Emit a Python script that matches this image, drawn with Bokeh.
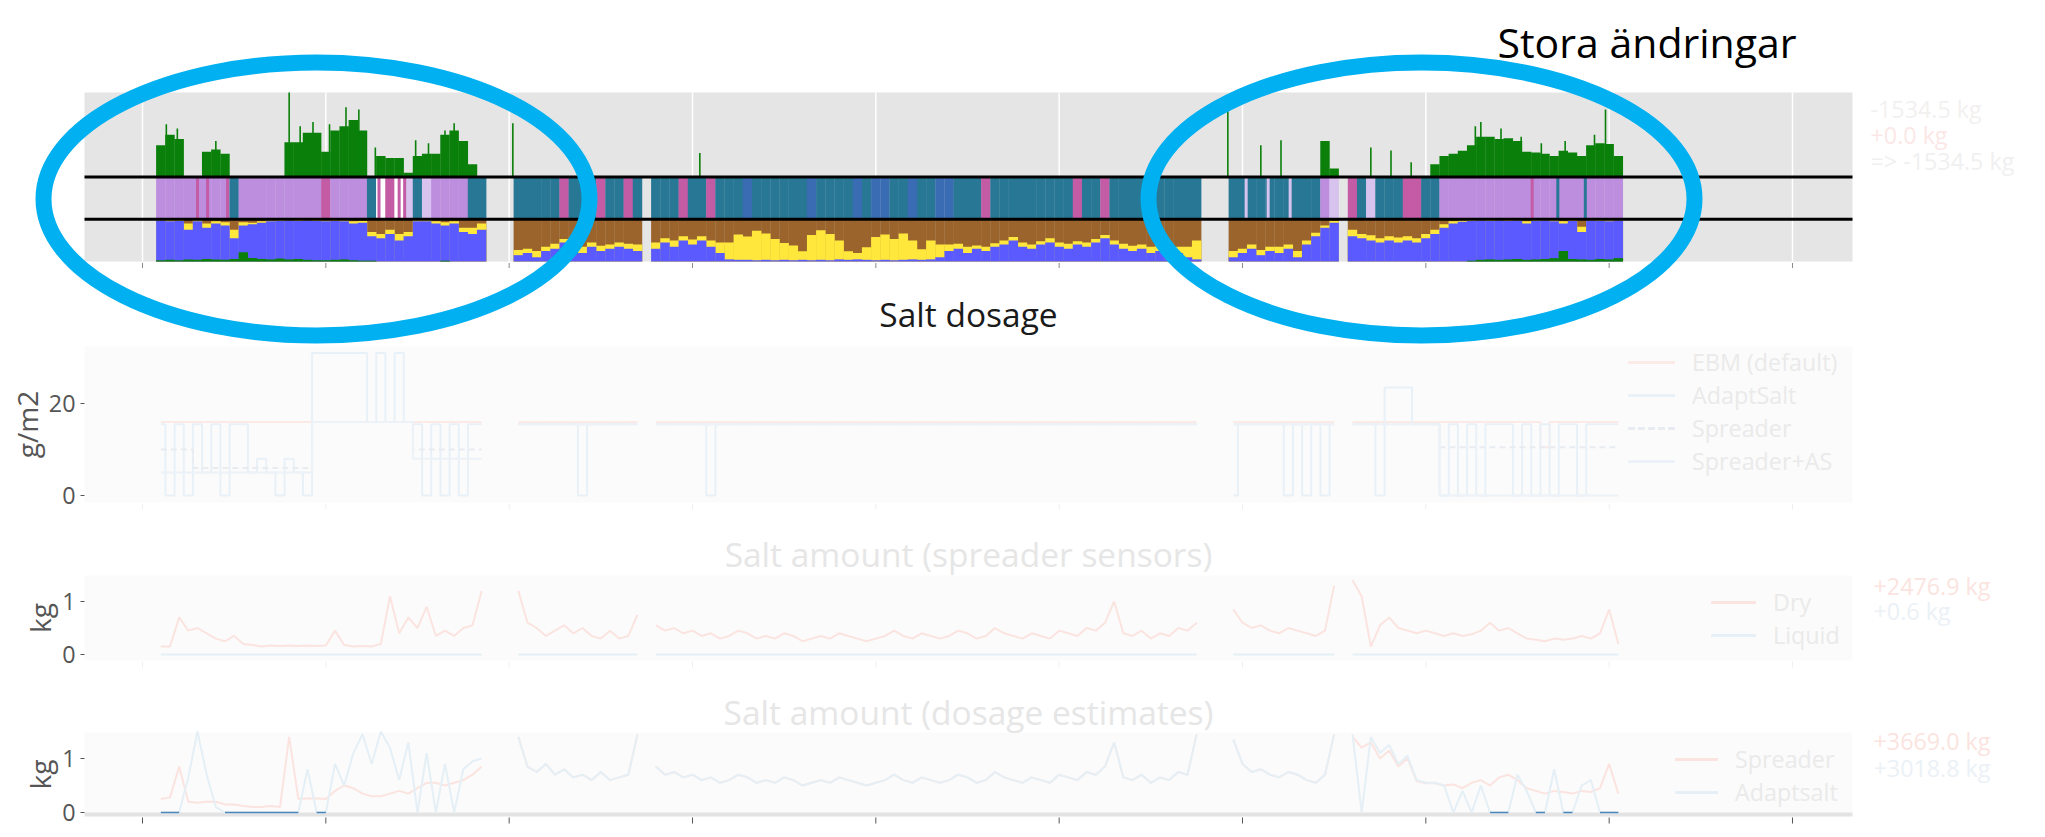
import numpy as np
from bokeh.plotting import figure
from bokeh.layouts import column
from bokeh.models import Range1d, FixedTicker, Legend, LegendItem
from bokeh.embed import file_html
from bokeh.resources import INLINE
from bokeh.core.properties import value

FONT = "Open Sans"

# ============================ DATA ============================
day_ticks = [0, 1, 2, 3, 4, 5, 6, 7, 8, 9]          # unlabeled day ticks on the shared time axis
seg_start = [0.10, 2.05, 2.80, 5.95, 6.60]         # first bin centre of each recorded stretch (days)
seg_bins = [36, 14, 60, 12, 30]                    # number of bins in each stretch
BIN_W = 0.05                                       # bin width (days)

# --- top panel: green amount above the strip (units above upper line) ---
green_top = [
    0.75, 1.0, 0.9, 0, 0, 0.6, 0.65, 0.55, 0, 0, 0, 0, 0, 0, 0.82, 0.82, 1.05, 1.05, 0.6, 1.1, 1.2, 1.35, 1.1, 0, 0.5, 0.45, 0.45, 0.1, 0.5, 0.55, 0.55, 1.0, 1.1, 0.85, 0.3, 0,
    0, 0, 0, 0, 0, 0, 0, 0, 0, 0, 0, 0, 0, 0,
    0, 0, 0, 0, 0, 0, 0, 0, 0, 0, 0, 0, 0, 0, 0, 0, 0, 0, 0, 0, 0, 0, 0, 0, 0, 0, 0, 0, 0, 0,
    0, 0, 0, 0, 0, 0, 0, 0, 0, 0, 0, 0, 0, 0, 0, 0, 0, 0, 0, 0, 0, 0, 0, 0, 0, 0, 0, 0, 0, 0,
    0, 0, 0, 0, 0, 0, 0, 0, 0, 0, 0.85, 0.2,
    0, 0, 0, 0, 0, 0, 0, 0, 0, 0.3, 0.5, 0.55, 0.62, 0.75, 0.95, 0.95, 0.9, 0.92, 0.85, 0.6, 0.58, 0.55, 0.5, 0.62, 0.58, 0.5, 0.75, 0.8, 0.78, 0.5,
]
# thin green spikes (day, height above upper line)
spike_day = [0.13, 0.19, 0.40, 0.80, 0.86, 0.93, 1.02, 1.11, 1.18, 1.27, 1.49, 1.56, 1.65, 1.70, 2.02, 3.04,
             5.92, 6.10, 6.21, 6.70, 6.81, 6.92, 7.27, 7.30, 7.41, 7.52, 7.63, 7.76, 7.92, 7.98]
spike_val = [1.25, 1.15, 0.85, 2.0, 1.2, 1.3, 1.25, 1.65, 1.6, 0.7, 0.87, 0.8, 1.1, 1.27, 1.27, 0.57,
             1.58, 0.75, 0.87, 0.7, 0.63, 0.35, 1.2, 1.3, 1.15, 0.95, 0.8, 0.85, 1.0, 1.6]

# --- top panel: road state strip (P purple, M magenta, T teal, B blue, W white, L lavender) ---
road_state = [
    "P", "P", "P", "P", "P", "P", "P", "P", "T", "P", "P", "P", "P", "P", "P", "P", "P", "P", "M", "P",
    "P", "P", "P", "T", "W", "M", "W", "L", "T", "L", "P", "P", "P", "P", "T", "T",
    "T", "T", "T", "T", "T", "M", "T", "T", "T", "M", "T", "T", "M", "T",
    "T", "T", "T", "M", "T", "T", "M", "T", "T", "T", "B", "T", "T", "T", "T", "T", "T", "B", "T", "T",
    "T", "T", "B", "T", "B", "B", "T", "T", "B", "T", "T", "B", "B", "T", "T", "T", "M", "T", "T", "T",
    "T", "T", "T", "T", "T", "T", "M", "T", "T", "M", "T", "T", "T", "T", "T", "T", "T", "T", "T", "T",
    "T", "T", "T", "T", "T", "T", "T", "T", "T", "T", "P", "L",
    "M", "T", "L", "T", "T", "T", "M", "M", "T", "T", "P", "P", "P", "P", "P", "P", "P", "P", "P", "P",
    "P", "P", "P", "P", "P", "P", "P", "P", "P", "P",
]
stripe_day = [0.30, 0.355, 0.464, 1.29, 1.40, 1.43, 6.02, 6.14, 6.26, 7.58, 7.72, 7.87]
stripe_state = ["M", "M", "M", "M", "M", "M", "L", "L", "L", "M", "T", "T"]

# --- top panel: bottom stacked fractions (blue from bottom, yellow above it, brown rest) ---
blue_frac = [
    0.97, 0.95, 0.96, 0.75, 0.95, 0.8, 0.9, 0.85, 0.55, 0.85, 0.88, 0.92, 0.95, 0.96, 0.97, 0.96, 0.97, 0.96, 0.95, 0.96,
    0.95, 0.9, 0.92, 0.6, 0.55, 0.65, 0.5, 0.6, 0.95, 0.95, 0.9, 0.85, 0.9, 0.7, 0.65, 0.75,
    0.15, 0.2, 0.1, 0.25, 0.3, 0.45, 0.3, 0.2, 0.35, 0.25, 0.3, 0.35, 0.3, 0.25,
    0.3, 0.45, 0.35, 0.5, 0.4, 0.5, 0.35, 0.2, 0.05, 0.04, 0.04, 0.03, 0.04, 0.03, 0.04, 0.03, 0.04, 0.03, 0.04, 0.03,
    0.05, 0.04, 0.05, 0.04, 0.03, 0.04, 0.03, 0.04, 0.05, 0.04, 0.05, 0.1, 0.25, 0.3, 0.2, 0.3, 0.25, 0.35, 0.4, 0.5,
    0.35, 0.3, 0.4, 0.45, 0.35, 0.3, 0.4, 0.35, 0.45, 0.55, 0.4, 0.3, 0.25, 0.3, 0.2, 0.25, 0.15, 0.2, 0.1, 0.05,
    0.1, 0.2, 0.3, 0.15, 0.25, 0.2, 0.3, 0.1, 0.4, 0.6, 0.8, 0.92,
    0.6, 0.55, 0.5, 0.45, 0.5, 0.45, 0.5, 0.45, 0.55, 0.65, 0.8, 0.9, 0.94, 0.96, 0.97, 0.96, 0.97, 0.96, 0.97, 0.9,
    0.96, 0.97, 0.95, 0.9, 0.96, 0.7, 0.97, 0.96, 0.95, 0.97,
]
yellow_frac = [
    0.02, 0.03, 0.02, 0.15, 0.03, 0.1, 0.05, 0.08, 0.2, 0.08, 0.04, 0.03, 0.02, 0.02, 0.02, 0.02, 0.02, 0.02, 0.02, 0.02,
    0.03, 0.05, 0.04, 0.1, 0.1, 0.1, 0.15, 0.1, 0.03, 0.03, 0.05, 0.08, 0.05, 0.1, 0.15, 0.15,
    0.12, 0.1, 0.15, 0.1, 0.12, 0.08, 0.12, 0.15, 0.1, 0.12, 0.1, 0.1, 0.12, 0.15,
    0.15, 0.1, 0.15, 0.1, 0.12, 0.1, 0.15, 0.25, 0.4, 0.6, 0.55, 0.7, 0.62, 0.5, 0.4, 0.35, 0.2, 0.6, 0.7, 0.62,
    0.45, 0.2, 0.15, 0.3, 0.55, 0.6, 0.5, 0.62, 0.45, 0.25, 0.45, 0.3, 0.15, 0.12, 0.15, 0.08, 0.1, 0.08, 0.1, 0.08,
    0.1, 0.1, 0.08, 0.1, 0.1, 0.12, 0.08, 0.1, 0.08, 0.08, 0.1, 0.12, 0.12, 0.1, 0.15, 0.12, 0.15, 0.15, 0.25, 0.45,
    0.15, 0.1, 0.1, 0.12, 0.1, 0.15, 0.1, 0.15, 0.1, 0.08, 0.05, 0.04,
    0.15, 0.1, 0.12, 0.1, 0.1, 0.12, 0.1, 0.1, 0.1, 0.1, 0.08, 0.05, 0.03, 0.02, 0.02, 0.02, 0.02, 0.02, 0.02, 0.05,
    0.02, 0.02, 0.03, 0.05, 0.02, 0.12, 0.02, 0.02, 0.03, 0.02,
]
green_frac = [
    0.03, 0.04, 0.03, 0.05, 0.04, 0.06, 0.05, 0.04, 0.06, 0.22, 0.08, 0.06, 0.05, 0.07, 0.05, 0.06, 0.04, 0.03, 0.03, 0.04,
    0.05, 0.03, 0.02, 0.02, 0, 0, 0, 0, 0, 0, 0, 0.02, 0, 0, 0, 0,
    0, 0, 0, 0, 0, 0, 0, 0, 0, 0, 0, 0, 0, 0,
    0, 0, 0, 0, 0, 0, 0, 0, 0, 0, 0, 0, 0, 0, 0, 0, 0, 0, 0, 0, 0, 0, 0, 0, 0, 0, 0, 0, 0, 0,
    0, 0, 0, 0, 0, 0, 0, 0, 0, 0, 0, 0, 0, 0, 0, 0, 0, 0, 0, 0, 0, 0, 0, 0, 0, 0, 0, 0, 0, 0,
    0, 0, 0, 0, 0, 0, 0, 0, 0, 0, 0, 0,
    0, 0, 0, 0, 0, 0, 0, 0, 0, 0, 0, 0, 0, 0.02, 0.04, 0.05, 0.04, 0.05, 0.06, 0.04,
    0.05, 0.06, 0.08, 0.25, 0.06, 0.05, 0.04, 0.06, 0.05, 0.08,
]

# --- Salt dosage (g/m2) ---
ebm_gm2 = [
    16, 16, 16, 16, 16, 16, 16, 16, 16, 16, 16, 16, 16, 16, 16, 16, 16, 16, 16, 16, 16, 16, 16, 16, 16, 16, 16, 16, 16, 16, 16, 16, 16, 16, 16, 16,
    16, 16, 16, 16, 16, 16, 16, 16, 16, 16, 16, 16, 16, 16,
    16, 16, 16, 16, 16, 16, 16, 16, 16, 16, 16, 16, 16, 16, 16, 16, 16, 16, 16, 16, 16, 16, 16, 16, 16, 16, 16, 16, 16, 16,
    16, 16, 16, 16, 16, 16, 16, 16, 16, 16, 16, 16, 16, 16, 16, 16, 16, 16, 16, 16, 16, 16, 16, 16, 16, 16, 16, 16, 16, 16,
    16, 16, 16, 16, 16, 16, 16, 16, 16, 16, 16, 16,
    16, 16, 16, 16, 16, 16, 16, 16, 16, 16, 16, 16, 16, 16, 16, 16, 16, 16, 16, 16, 16, 10.5, 16, 16, 16, 16, 16, 16, 16, 16,
]
adapt_gm2 = [
    15.5, 0, 15.5, 0, 15.5, 5, 15.5, 0, 15.5, 15.5, 5, 8, 5, 0, 8, 5, 0, 31, 31, 31, 31, 31, 31, 16, 31, 16, 31, 16, 15.5, 0, 15.5, 0, 15.5, 0, 15.5, 15.5,
    15.5, 15.5, 15.5, 15.5, 15.5, 15.5, 15.5, 0, 15.5, 15.5, 15.5, 15.5, 15.5, 15.5,
    15.5, 15.5, 15.5, 15.5, 15.5, 15.5, 0, 15.5, 15.5, 15.5, 15.5, 15.5, 15.5, 15.5, 15.5, 15.5, 15.5, 15.5, 15.5, 15.5,
    15.5, 15.5, 15.5, 15.5, 15.5, 15.5, 15.5, 15.5, 15.5, 15.5, 15.5, 15.5, 15.5, 15.5, 15.5, 15.5, 15.5, 15.5, 15.5, 15.5,
    15.5, 15.5, 15.5, 15.5, 15.5, 15.5, 15.5, 15.5, 15.5, 15.5, 15.5, 15.5, 15.5, 15.5, 15.5, 15.5, 15.5, 15.5, 15.5, 15.5,
    0, 15.5, 15.5, 15.5, 15.5, 15.5, 0, 15.5, 0, 15.5, 0, 15.5,
    15.5, 15.5, 15.5, 0, 23.5, 23.5, 23.5, 15.5, 15.5, 15.5, 0, 15.5, 0, 15.5, 0, 15.5, 15.5, 15.5, 0, 15.5, 0, 15.5, 0, 15.5, 15.5, 0, 15.5, 15.5, 15.5, 15.5,
]
spreader_gm2 = [
    10, 10, 10, 10, 6, 6, 6, 6, 6, 6, 6, 6, 6, 6, 6, 6, 6, 16, 16, 16, 16, 16, 16, 16, 16, 16, 16, 16, 10, 10, 10, 10, 10, 10, 10, 10,
    15.5, 15.5, 15.5, 15.5, 15.5, 15.5, 15.5, 15.5, 15.5, 15.5, 15.5, 15.5, 15.5, 15.5,
    15.5, 15.5, 15.5, 15.5, 15.5, 15.5, 15.5, 15.5, 15.5, 15.5, 15.5, 15.5, 15.5, 15.5, 15.5, 15.5, 15.5, 15.5, 15.5, 15.5,
    15.5, 15.5, 15.5, 15.5, 15.5, 15.5, 15.5, 15.5, 15.5, 15.5, 15.5, 15.5, 15.5, 15.5, 15.5, 15.5, 15.5, 15.5, 15.5, 15.5,
    15.5, 15.5, 15.5, 15.5, 15.5, 15.5, 15.5, 15.5, 15.5, 15.5, 15.5, 15.5, 15.5, 15.5, 15.5, 15.5, 15.5, 15.5, 15.5, 15.5,
    15.5, 15.5, 15.5, 15.5, 15.5, 15.5, 15.5, 15.5, 15.5, 15.5, 15.5, 15.5,
    15.5, 15.5, 15.5, 15.5, 15.5, 15.5, 15.5, 15.5, 15.5, 15.5, 10.5, 10.5, 10.5, 10.5, 10.5, 10.5, 10.5, 10.5, 10.5, 10.5,
    10.5, 10.5, 10.5, 10.5, 10.5, 10.5, 10.5, 10.5, 10.5, 10.5,
]
spreader_as_gm2 = [
    5, 5, 5, 5, 5, 5, 5, 5, 5, 5, 5, 5, 5, 5, 5, 5, 5, 16, 16, 16, 16, 16, 16, 16, 16, 16, 16, 16, 8, 8, 8, 8, 8, 8, 8, 8,
    15.5, 15.5, 15.5, 15.5, 15.5, 15.5, 15.5, 15.5, 15.5, 15.5, 15.5, 15.5, 15.5, 15.5,
    15.5, 15.5, 15.5, 15.5, 15.5, 15.5, 15.5, 15.5, 15.5, 15.5, 15.5, 15.5, 15.5, 15.5, 15.5, 15.5, 15.5, 15.5, 15.5, 15.5,
    15.5, 15.5, 15.5, 15.5, 15.5, 15.5, 15.5, 15.5, 15.5, 15.5, 15.5, 15.5, 15.5, 15.5, 15.5, 15.5, 15.5, 15.5, 15.5, 15.5,
    15.5, 15.5, 15.5, 15.5, 15.5, 15.5, 15.5, 15.5, 15.5, 15.5, 15.5, 15.5, 15.5, 15.5, 15.5, 15.5, 15.5, 15.5, 15.5, 15.5,
    15.5, 15.5, 15.5, 15.5, 15.5, 15.5, 15.5, 15.5, 15.5, 15.5, 15.5, 15.5,
    15.5, 15.5, 15.5, 15.5, 15.5, 15.5, 15.5, 15.5, 15.5, 15.5, 0, 0, 0, 0, 0, 0, 0, 0, 0, 0,
    0, 0, 0, 0, 0, 0, 0, 0, 0, 0,
]

# --- Salt amount, spreader sensors (kg) ---
dry_kg = [
    0.15, 0.15, 0.7, 0.45, 0.5, 0.4, 0.3, 0.25, 0.35, 0.2, 0.18, 0.15, 0.17, 0.16, 0.17, 0.16, 0.17, 0.16, 0.17, 0.45,
    0.18, 0.15, 0.16, 0.15, 0.2, 1.1, 0.4, 0.7, 0.5, 0.9, 0.35, 0.45, 0.35, 0.5, 0.55, 1.2,
    1.2, 0.6, 0.5, 0.35, 0.45, 0.55, 0.4, 0.5, 0.35, 0.3, 0.45, 0.3, 0.35, 0.75,
    0.55, 0.45, 0.5, 0.4, 0.45, 0.35, 0.4, 0.3, 0.35, 0.45, 0.4, 0.3, 0.35, 0.3, 0.4, 0.35, 0.25, 0.3, 0.35, 0.3,
    0.4, 0.35, 0.3, 0.25, 0.3, 0.35, 0.45, 0.35, 0.3, 0.4, 0.35, 0.3, 0.35, 0.45, 0.4, 0.3, 0.35, 0.5, 0.4, 0.35,
    0.3, 0.4, 0.35, 0.3, 0.45, 0.4, 0.35, 0.5, 0.45, 0.6, 1.0, 0.4, 0.35, 0.45, 0.3, 0.4, 0.35, 0.5, 0.45, 0.6,
    0.85, 0.6, 0.5, 0.55, 0.45, 0.4, 0.5, 0.45, 0.4, 0.35, 0.45, 1.3,
    1.4, 1.1, 0.15, 0.55, 0.7, 0.5, 0.45, 0.4, 0.45, 0.4, 0.35, 0.4, 0.35, 0.38, 0.45, 0.6, 0.45, 0.5, 0.4, 0.3,
    0.28, 0.25, 0.3, 0.28, 0.3, 0.35, 0.3, 0.4, 0.85, 0.2,
]
liquid_kg = [
    0, 0, 0, 0, 0, 0, 0, 0, 0, 0, 0, 0, 0, 0, 0, 0, 0, 0, 0, 0, 0, 0, 0, 0, 0, 0, 0, 0, 0, 0, 0, 0, 0, 0, 0, 0,
    0, 0, 0, 0, 0, 0, 0, 0, 0, 0, 0, 0, 0, 0,
    0, 0, 0, 0, 0, 0, 0, 0, 0, 0, 0, 0, 0, 0, 0, 0, 0, 0, 0, 0, 0, 0, 0, 0, 0, 0, 0, 0, 0, 0,
    0, 0, 0, 0, 0, 0, 0, 0, 0, 0, 0, 0, 0, 0, 0, 0, 0, 0, 0, 0, 0, 0, 0, 0, 0, 0, 0, 0, 0, 0,
    0, 0, 0, 0, 0, 0, 0, 0, 0, 0, 0, 0,
    0, 0, 0, 0, 0, 0, 0, 0, 0, 0, 0, 0, 0, 0, 0, 0, 0, 0, 0, 0, 0, 0, 0, 0, 0, 0, 0, 0, 0, 0,
]

# --- Salt amount, dosage estimates (kg) ---
est_spreader_kg = [
    0.25, 0.28, 0.85, 0.2, 0.18, 0.2, 0.2, 0.15, 0.15, 0.12, 0.1, 0.1, 0.12, 0.1, 1.4, 0.25, 0.26, 0.26, 0.25, 0.4,
    0.5, 0.45, 0.35, 0.3, 0.3, 0.35, 0.4, 0.35, 0.45, 0.55, 0.55, 0.5, 0.55, 0.6, 0.7, 0.85,
    1.4, 0.85, 0.75, 0.9, 0.7, 0.8, 0.65, 0.7, 0.6, 0.75, 0.6, 0.65, 0.7, 1.45,
    0.85, 0.7, 0.75, 0.65, 0.7, 0.6, 0.65, 0.55, 0.6, 0.7, 0.65, 0.55, 0.6, 0.55, 0.65, 0.6, 0.5, 0.55, 0.6, 0.55,
    0.65, 0.6, 0.55, 0.5, 0.55, 0.6, 0.7, 0.6, 0.55, 0.65, 0.6, 0.55, 0.6, 0.7, 0.65, 0.55, 0.6, 0.75, 0.65, 0.6,
    0.55, 0.65, 0.6, 0.55, 0.7, 0.65, 0.6, 0.75, 0.7, 0.85, 1.3, 0.65, 0.6, 0.7, 0.55, 0.65, 0.6, 0.75, 0.7, 1.45,
    1.35, 0.9, 0.75, 0.8, 0.7, 0.65, 0.75, 0.7, 0.6, 0.55, 0.7, 1.45,
    1.4, 1.2, 1.3, 1.0, 1.15, 0.85, 1.0, 0.58, 0.54, 0.54, 0.5, 0.52, 0.45, 0.55, 0.6, 0.5, 0.65, 0.7, 0.6, 0.45,
    0.4, 0.35, 0.4, 0.38, 0.35, 0.4, 0.38, 0.45, 0.9, 0.35,
]
est_adapt_kg = [
    0, 0, 0, 0.65, 1.5, 0.7, 0.1, 0, 0, 0, 0, 0, 0, 0, 0, 0, 0.8, 0, 0, 0.9,
    0.5, 1.1, 1.45, 0.9, 1.5, 1.2, 0.6, 1.3, 0, 1.1, 0, 0.9, 0, 0.8, 0.95, 1.0,
    1.4, 0.85, 0.75, 0.9, 0.7, 0.8, 0.65, 0.7, 0.6, 0.75, 0.6, 0.65, 0.7, 1.45,
    0.85, 0.7, 0.75, 0.65, 0.7, 0.6, 0.65, 0.55, 0.6, 0.7, 0.65, 0.55, 0.6, 0.55, 0.65, 0.6, 0.5, 0.55, 0.6, 0.55,
    0.65, 0.6, 0.55, 0.5, 0.55, 0.6, 0.7, 0.6, 0.55, 0.65, 0.6, 0.55, 0.6, 0.7, 0.65, 0.55, 0.6, 0.75, 0.65, 0.6,
    0.55, 0.65, 0.6, 0.55, 0.7, 0.65, 0.6, 0.75, 0.7, 0.85, 1.3, 0.65, 0.6, 0.7, 0.55, 0.65, 0.6, 0.75, 0.7, 1.45,
    1.35, 0.9, 0.75, 0.8, 0.7, 0.65, 0.75, 0.7, 0.6, 0.55, 0.7, 1.45,
    1.45, 0, 1.4, 1.1, 1.25, 0.9, 1.05, 0.6, 0.55, 0.55, 0.5, 0, 0.4, 0, 0.5, 0, 0, 0, 0.7, 0.4,
    0, 0, 0.8, 0, 0, 0.5, 0.6, 0, 0, 0,
]

top_totals = ["-1534.5 kg", "+0.0 kg", "=> -1534.5 kg"]
sensor_totals = ["+2476.9 kg", "+0.6 kg"]
estimate_totals = ["+3669.0 kg", "+3018.8 kg"]

# ============================ LAYOUT ============================
N = sum(seg_bins)
for arr in (green_top, road_state, blue_frac, yellow_frac, green_frac, ebm_gm2, adapt_gm2, spreader_gm2,
            spreader_as_gm2, dry_kg, liquid_kg, est_spreader_kg, est_adapt_kg):
    assert len(arr) == N, len(arr)

t = np.concatenate([s + BIN_W * np.arange(n) for s, n in zip(seg_start, seg_bins)])
edges = np.cumsum([0] + seg_bins)
segs = [slice(edges[i], edges[i + 1]) for i in range(len(seg_bins))]

W = 2040                          # every figure spans the page width; its plot frame is the whole canvas
X0_PX, DAY_PX = 142.0, 183.333    # page x of day 0 and pixels per day
FRAME_L, FRAME_R = 84, 1852       # page x of the panels' grey plot areas


def sx(px):
    return (px - X0_PX) / DAY_PX


STATE_COLORS = {"P": "#BD8EDE", "M": "#C45BA5", "T": "#287795", "B": "#3A6CB4", "W": "#FFFFFF", "L": "#D8C3EF"}
BLUE, YELLOW, BROWN, GREEN = "#5A5AFF", "#FFE83B", "#9B642D", "#0A800A"


def base_figure(top_px, bottom_px, y_of):
    p = figure(width=W, height=bottom_px - top_px, x_range=Range1d(sx(0), sx(W)),
               y_range=Range1d(y_of(bottom_px), y_of(top_px)), x_axis_location=None, y_axis_location=None,
               toolbar_location=None, output_backend="svg", title=None, min_border=0,
               outline_line_color=None, background_fill_color="white", border_fill_color="white")
    p.grid.visible = False
    return p


# ---------- figure 1: top state panel + annotations ----------
TOP_Y0, TOP_UNIT = 261.0, 42.25


def sy(py):
    return (TOP_Y0 - py) / TOP_UNIT


top = base_figure(0, 346, sy)
top.quad(left=sx(FRAME_L), right=sx(FRAME_R), bottom=0, top=4, fill_color="#E5E5E5", line_color=None)
top.segment(x0=day_ticks, y0=0, x1=day_ticks, y1=4, line_color="white", line_width=1.5)
top.segment(x0=day_ticks, y0=sy(262.5), x1=day_ticks, y1=sy(267.5), line_color="#8A8A8A", line_width=1)

gt = np.array(green_top, dtype=float)
bf = np.array(blue_frac, dtype=float)
yf = np.array(yellow_frac, dtype=float)
gf = np.array(green_frac, dtype=float)
bw = BIN_W * 1.03

top.vbar(x=t, width=bw, bottom=0, top=1, fill_color=BROWN, line_color=None)
top.vbar(x=t, width=bw, bottom=0, top=bf + yf, fill_color=YELLOW, line_color=None)
top.vbar(x=t, width=bw, bottom=0, top=bf, fill_color=BLUE, line_color=None)
top.vbar(x=t, width=bw, bottom=0, top=gf, fill_color=GREEN, line_color=None)
top.vbar(x=t, width=bw, bottom=1, top=2, fill_color=[STATE_COLORS[s] for s in road_state], line_color=None)
top.vbar(x=stripe_day, width=3.0 / DAY_PX, bottom=1, top=2,
         fill_color=[STATE_COLORS[s] for s in stripe_state], line_color=None)
top.vbar(x=t, width=bw, bottom=2, top=2 + gt, fill_color=GREEN, line_color=None)
top.segment(x0=spike_day, y0=2, x1=spike_day, y1=2 + np.array(spike_val), line_color=GREEN, line_width=1.6)
top.segment(x0=[sx(FRAME_L)] * 2, y0=[1, 2], x1=[sx(FRAME_R)] * 2, y1=[1, 2], line_color="black", line_width=3)

# text y values below are the visual centre lines of the texts (page pixels)
top.text(x=[sx(1870)] * 3, y=[sy(108), sy(134), sy(160)], text=top_totals,
         text_font=value(FONT), text_font_size="23.3px", text_baseline="alphabetic",
         text_color=["#F3F0F0", "#FCE7E7", "#F0F0F0"])
top.text(x=[sx(968)], y=[sy(313)], text=["Salt dosage"], text_font=value(FONT), text_font_size="33.5px",
         text_align="center", text_baseline="alphabetic", text_color="#1A1A1A")
top.ellipse(x=[sx(316), sx(1421)], y=[sy(198.5), sy(198.5)], width=546, height=273,
            width_units="screen", height_units="screen", fill_color=None,
            line_color="#00B0F0", line_width=16)
top.text(x=[sx(1497)], y=[sy(41)], text=["Stora ändringar"], text_font=value(FONT), text_font_size="41px",
         text_baseline="alphabetic", text_color="black")

# ---------- panels 2-4 (washed out) ----------
BG_F = "#FBFBFB"
RED_F, BLUE_F = "#FBE4E0", "#E5EFF6"
TXT_F = "#EAEAEA"
TICK_TXT = "#555555"


def make_panel(top_px, bottom_px, y0_px, unit_px, bg_top, bg_bot, yticks, ylabel, tick_color):
    def py(v):
        return (y0_px - v) / unit_px

    p = base_figure(top_px, bottom_px, py)
    p.quad(left=sx(FRAME_L), right=sx(FRAME_R), bottom=py(bg_bot), top=py(bg_top), fill_color=BG_F, line_color=None)
    p.segment(x0=day_ticks, y0=py(bg_bot + 1), x1=day_ticks, y1=py(bg_bot + 7), line_color=tick_color, line_width=1)
    ya = p.yaxis[0] if len(p.yaxis) else None
    if ya is None:
        from bokeh.models import LinearAxis
        ya = LinearAxis()
        p.add_layout(ya, "left")
    ya.fixed_location = sx(FRAME_L)
    ya.bounds = (py(bg_bot), py(bg_top))
    ya.ticker = FixedTicker(ticks=yticks)
    ya.axis_line_color = None
    ya.major_tick_line_color = TICK_TXT
    ya.major_tick_out = 4
    ya.major_tick_in = 0
    ya.minor_tick_line_color = None
    ya.major_label_text_font = FONT
    ya.major_label_text_font_size = "23.3px"
    ya.major_label_text_color = TICK_TXT
    ya.major_label_standoff = 5
    ya.axis_label = ylabel
    ya.axis_label_text_font = FONT
    ya.axis_label_text_font_size = "28px"
    ya.axis_label_text_font_style = "normal"
    ya.axis_label_text_color = TICK_TXT
    ya.axis_label_standoff = 0
    return p, py


def add_legend(p, items, x, y, glyph_w):
    leg = Legend(items=items, location=(x, y), orientation="vertical", label_text_font=FONT,
                 label_text_font_size="23.3px", label_text_color=TXT_F, glyph_width=glyph_w,
                 glyph_height=30, label_height=30, label_standoff=17, spacing=1, padding=0, margin=0,
                 border_line_color=None, background_fill_alpha=0)
    p.add_layout(leg)


def add_text(p, py, x_px, y_px, txt, size, color, align="left"):
    p.text(x=[sx(x_px)], y=[py(y_px)], text=[txt], text_font=value(FONT), text_font_size=size,
           text_align=align, text_baseline="alphabetic", text_color=color)


# panel 2: Salt dosage
p2, py2 = make_panel(346, 530, 495.0, 4.6, 333, 502, [0, 20], "g/m2", "#EFEFEF")
series2 = [("EBM (default)", ebm_gm2, "#FCEAE7", "solid"), ("AdaptSalt", adapt_gm2, "#E9F1F8", "solid"),
           ("Spreader", spreader_gm2, "#E8ECF1", "6 4"), ("Spreader+AS", spreader_as_gm2, "#ECF2F7", "solid")]
items2 = []
for name, vals, col, dash in series2:
    v = np.array(vals, dtype=float)
    rs = [p2.step(t[s], v[s], mode="center", line_color=col, line_width=2, line_dash=dash) for s in segs]
    items2.append(LegendItem(label=name, renderers=rs))
add_legend(p2, items2, 1628, 53, 47)

# panel 3: Salt amount (spreader sensors)
p3, py3 = make_panel(530, 688, 654.0, 53.0, 575, 660, [0, 1], "kg", "#EFEFEF")
items3 = []
for name, vals, col in [("Dry", dry_kg, RED_F), ("Liquid", liquid_kg, BLUE_F)]:
    v = np.array(vals, dtype=float)
    rs = [p3.line(t[s], v[s], line_color=col, line_width=2) for s in segs]
    items3.append(LegendItem(label=name, renderers=rs))
add_legend(p3, items3, 1711, 37, 45)
add_text(p3, py3, 968, 553, "Salt amount (spreader sensors)", "33.5px", "#E6E6E6", "center")
for txt, ypx, col in zip(sensor_totals, [585, 610], ["#FBE4E0", "#EBF1F6"]):
    add_text(p3, py3, 1873, ypx, txt, "23.3px", col)

# panel 4: Salt amount (dosage estimates)
p4, py4 = make_panel(688, 835, 812.0, 54.0, 732, 816, [0, 1], "kg", TICK_TXT)
p4.quad(left=sx(FRAME_L), right=sx(FRAME_R), bottom=py4(816), top=0, fill_color="#E3E3E3", line_color=None)
items4 = []
for name, vals, col in [("Spreader", est_spreader_kg, RED_F), ("Adaptsalt", est_adapt_kg, BLUE_F)]:
    v = np.array(vals, dtype=float)
    rs = [p4.line(t[s], v[s], line_color=col, line_width=2) for s in segs]
    items4.append(LegendItem(label=name, renderers=rs))
ea = np.array(est_adapt_kg, dtype=float)
zero_run = np.where(ea == 0, 0.0, np.nan)
for s in segs:
    p4.line(t[s], zero_run[s], line_color="#4A86B8", line_width=1.6)
add_legend(p4, items4, 1675, 27, 43)
add_text(p4, py4, 968, 711, "Salt amount (dosage estimates)", "33.5px", "#E6E6E6", "center")
for txt, ypx, col in zip(estimate_totals, [740, 767], ["#FBE4E0", "#EBF1F6"]):
    add_text(p4, py4, 1873, ypx, txt, "23.3px", col)

page = column(top, p2, p3, p4, spacing=0)
open("out.html", "w").write(file_html(page, INLINE))
